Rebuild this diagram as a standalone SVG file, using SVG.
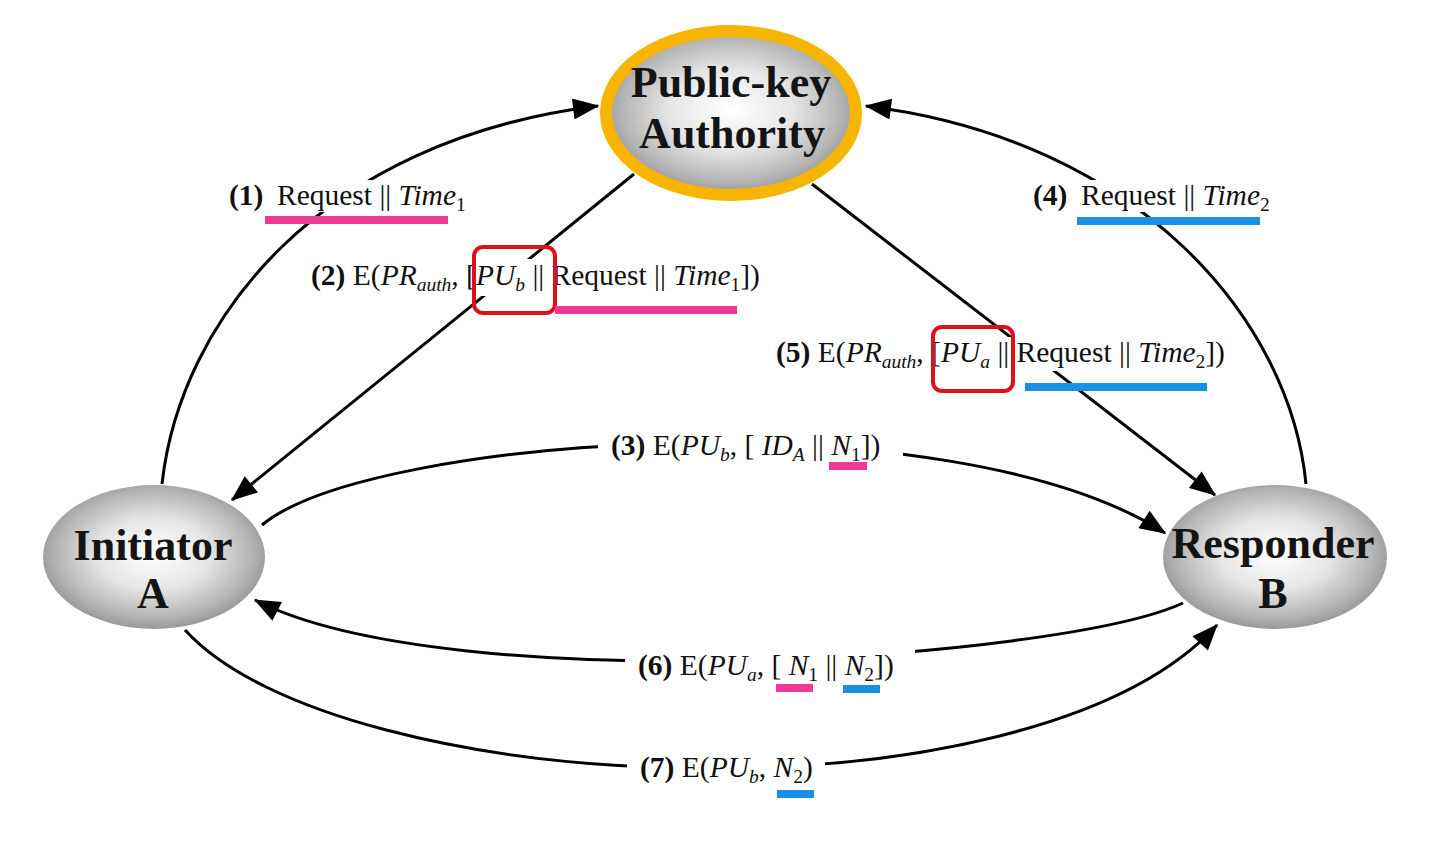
<svg xmlns="http://www.w3.org/2000/svg" width="1440" height="864" viewBox="0 0 1440 864">
<defs>
<style>
.lbl{font-family:"Liberation Serif","Times New Roman",serif;font-size:29.5px;fill:#111}
.b{font-weight:bold}
.i{font-style:italic}
.sub{font-size:19.5px}
.node{font-family:"Liberation Serif","Times New Roman",serif;font-weight:bold;font-size:44px;fill:#141414;text-anchor:middle}
.conn{fill:none;stroke:#000;stroke-width:3}
.bg{fill:#fff}
.pink{fill:#ee3a97}
.blue{fill:#1a90e4}
.redbox{fill:none;stroke:#e01018;stroke-width:4}
</style>
<radialGradient id="g" cx="0.5" cy="0.48" r="0.55">
<stop offset="0" stop-color="#ffffff"/>
<stop offset="0.45" stop-color="#e6e6e6"/>
<stop offset="0.8" stop-color="#b4b4b4"/>
<stop offset="1" stop-color="#8e8e8e"/>
</radialGradient>
<marker id="ah" viewBox="0 0 10 8" refX="9.5" refY="4" markerWidth="9" markerHeight="7" orient="auto">
<path d="M0,0 L10,4 L0,8 Z" fill="#000"/>
</marker>
</defs>
<rect width="1440" height="864" fill="#fff"/>

<g id="connectors">
<path class="conn" d="M162,484 C180,320 320,140 598,106" marker-end="url(#ah)"/>
<path class="conn" d="M1306,484 C1290,320 1140,140 866,106" marker-end="url(#ah)"/>
<path class="conn" d="M634,174 L232,500" marker-end="url(#ah)"/>
<path class="conn" d="M812,184 L1215,495" marker-end="url(#ah)"/>
<path class="conn" d="M262,525 C370,435 950,395 1165,533" marker-end="url(#ah)"/>
<path class="conn" d="M1183,603 C1060,660 450,700 255,600" marker-end="url(#ah)"/>
<path class="conn" d="M185,630 C340,800 1030,830 1217,625" marker-end="url(#ah)"/>
</g>

<g id="node-pka">
<ellipse cx="731" cy="113" rx="125" ry="82" fill="url(#g)" stroke="#f7b500" stroke-width="12"/>
<text class="node" x="731" y="97">Public-key</text>
<text class="node" x="732" y="148">Authority</text>
</g>
<g id="node-initiator">
<ellipse cx="154" cy="557" rx="111" ry="72" fill="url(#g)"/>
<text class="node" x="153" y="560">Initiator</text>
<text class="node" x="153" y="608">A</text>
</g>
<g id="node-responder">
<ellipse cx="1275" cy="557" rx="112" ry="72" fill="url(#g)"/>
<text class="node" x="1273" y="558">Responder</text>
<text class="node" x="1273" y="608">B</text>
</g>

<g id="label-1">
<rect class="bg" x="222" y="180" width="246" height="32"/>
<text class="lbl b" x="229" y="205">(1)</text>
<text class="lbl" x="277" y="205">Request || <tspan class="i">Time</tspan><tspan class="sub" dy="6">1</tspan></text>
<rect class="pink" x="265" y="216" width="183" height="8"/>
</g>
<g id="label-4">
<rect class="bg" x="1028" y="180" width="248" height="32"/>
<text class="lbl b" x="1033" y="205">(4)</text>
<text class="lbl" x="1081" y="205">Request || <tspan class="i">Time</tspan><tspan class="sub" dy="6">2</tspan></text>
<rect class="blue" x="1077" y="217" width="183" height="8"/>
</g>
<g id="label-2">
<rect class="bg" x="305" y="259" width="462" height="37"/>
<text class="lbl" x="311" y="285"><tspan class="b">(2)</tspan> E(<tspan class="i">PR</tspan><tspan class="sub i" dy="6">auth</tspan><tspan dy="-6">, [</tspan><tspan class="i">PU</tspan><tspan class="sub i" dy="6">b</tspan><tspan dy="-6"> || Request || </tspan><tspan class="i">Time</tspan><tspan class="sub" dy="6">1</tspan><tspan dy="-6">])</tspan></text>
<rect class="redbox" x="474" y="247" width="81" height="66" rx="9"/>
<rect class="pink" x="555" y="306" width="182" height="8"/>
</g>
<g id="label-5">
<rect class="bg" x="770" y="337" width="462" height="34"/>
<text class="lbl" x="776" y="362"><tspan class="b">(5)</tspan> E(<tspan class="i">PR</tspan><tspan class="sub i" dy="6">auth</tspan><tspan dy="-6">, [</tspan><tspan class="i">PU</tspan><tspan class="sub i" dy="6">a</tspan><tspan dy="-6"> || Request || </tspan><tspan class="i">Time</tspan><tspan class="sub" dy="6">2</tspan><tspan dy="-6">])</tspan></text>
<rect class="redbox" x="933" y="327" width="80" height="64" rx="9"/>
<rect class="blue" x="1025" y="383" width="182" height="8"/>
</g>
<g id="label-3">
<rect class="bg" x="598" y="425" width="305" height="43"/>
<text class="lbl" x="611" y="455"><tspan class="b">(3)</tspan> E(<tspan class="i">PU</tspan><tspan class="sub i" dy="6">b</tspan><tspan dy="-6">, [ </tspan><tspan class="i">ID</tspan><tspan class="sub i" dy="6">A</tspan><tspan dy="-6"> || </tspan><tspan class="i">N</tspan><tspan class="sub" dy="6">1</tspan><tspan dy="-6">])</tspan></text>
<rect class="pink" x="829" y="462" width="38" height="8"/>
</g>
<g id="label-6">
<rect class="bg" x="625" y="646" width="290" height="44"/>
<text class="lbl" x="638" y="675"><tspan class="b">(6)</tspan> E(<tspan class="i">PU</tspan><tspan class="sub i" dy="6">a</tspan><tspan dy="-6">, [ </tspan><tspan class="i">N</tspan><tspan class="sub" dy="6">1</tspan><tspan dy="-6"> || </tspan><tspan class="i">N</tspan><tspan class="sub" dy="6">2</tspan><tspan dy="-6">])</tspan></text>
<rect class="pink" x="776" y="684" width="37" height="8"/>
<rect class="blue" x="843" y="685" width="37" height="8"/>
</g>
<g id="label-7">
<rect class="bg" x="627" y="750" width="198" height="38"/>
<text class="lbl" x="640" y="777"><tspan class="b">(7)</tspan> E(<tspan class="i">PU</tspan><tspan class="sub i" dy="6">b</tspan><tspan dy="-6">, </tspan><tspan class="i">N</tspan><tspan class="sub" dy="6">2</tspan><tspan dy="-6">)</tspan></text>
<rect class="blue" x="777" y="790" width="37" height="8"/>
</g>
</svg>
